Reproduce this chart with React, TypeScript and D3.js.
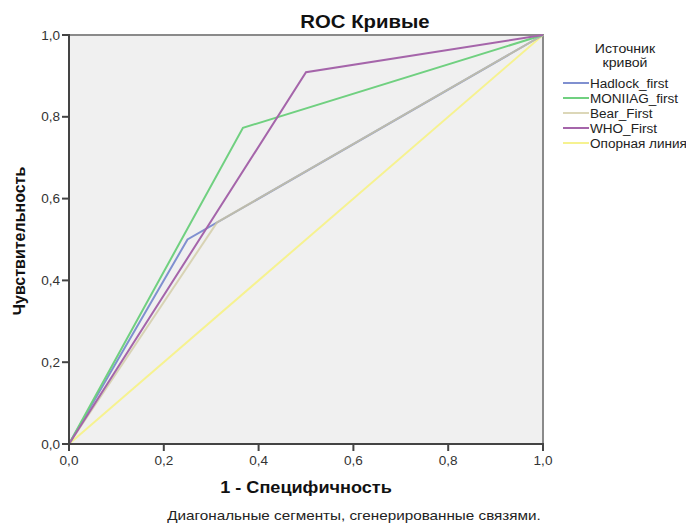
import React from "react";
import * as d3 from "d3";

const seriesNames = ["Hadlock_first", "MONIIAG_first", "Bear_First", "WHO_First", "Опорная линия"];
const seriesColors = ["#8090d0", "#70d080", "#d0c9a0", "#a565aa", "#f6f290"];
const seriesOpacity = [1, 1, 0.75, 1, 1];
const hadlockPts: [number, number][] = [[0, 0], [0.25, 0.5], [1, 1]];
const moniiagPts: [number, number][] = [[0, 0], [0.367, 0.773], [1, 1]];
const bearPts: [number, number][] = [[0, 0], [0.3125, 0.542], [1, 1]];
const whoPts: [number, number][] = [[0, 0], [0.5, 0.909], [1, 1]];
const refPts: [number, number][] = [[0, 0], [1, 1]];
const tickValues = [0, 0.2, 0.4, 0.6, 0.8, 1.0];
const tickLabels = ["0,0", "0,2", "0,4", "0,6", "0,8", "1,0"];

const SX = 1.13;

function T(props: { x: number; y: number; size: number; anchor?: string; bold?: boolean; fill?: string; children: React.ReactNode }) {
  const { x, y, size, anchor = "start", bold = false, fill = "#222", children } = props;
  return (
    <g transform={`translate(${x},${y}) scale(${SX},1)`}>
      <text x={0} y={0} textAnchor={anchor as any} fontSize={size} fontWeight={bold ? "bold" : "normal"} fill={fill}>{children}</text>
    </g>
  );
}

export default function App() {
  const W = 686, H = 525;
  const x0 = 69, x1 = 543, y0 = 444, y1 = 35;
  const x = d3.scaleLinear().domain([0, 1]).range([x0, x1]);
  const y = d3.scaleLinear().domain([0, 1]).range([y0, y1]);
  const line = d3.line<[number, number]>().x(d => x(d[0])).y(d => y(d[1]));
  const series = [hadlockPts, moniiagPts, bearPts, whoPts, refPts];
  const drawOrder = [4, 0, 2, 1, 3];
  const font = "'Liberation Sans', Arial, sans-serif";
  return (
    <svg width={W} height={H} style={{ position: "absolute", left: 0, top: 0, background: "#fff" }} fontFamily={font}>
      <rect x={0} y={0} width={W} height={H} fill="#fff" />
      <rect x={x0} y={y1} width={x1 - x0} height={y0 - y1} fill="#f0f0f0" stroke="#8a8a8a" strokeWidth={2} />
      {drawOrder.map(i => (
        <path key={i} d={line(series[i]) || ""} fill="none" stroke={seriesColors[i]} strokeOpacity={seriesOpacity[i]} strokeWidth={2} />
      ))}
      <line x1={x0} x2={x0} y1={y1 - 1} y2={y0 + 1} stroke="#444" strokeWidth={2} />
      <line x1={x0 - 1} x2={x1 + 1} y1={y0} y2={y0} stroke="#444" strokeWidth={2} />
      {tickValues.map((v, i) => (
        <g key={"y" + i}>
          <line x1={x0 - 7} x2={x0} y1={y(v)} y2={y(v)} stroke="#444" strokeWidth={2} />
          <T x={x0 - 9} y={y(v) + 4.5} size={12} anchor="end" fill="#333">{tickLabels[i]}</T>
        </g>
      ))}
      {tickValues.map((v, i) => (
        <g key={"x" + i}>
          <line x1={x(v)} x2={x(v)} y1={y0} y2={y0 + 7} stroke="#444" strokeWidth={2} />
          <T x={x(v)} y={y0 + 21} size={12} anchor="middle" fill="#333">{tickLabels[i]}</T>
        </g>
      ))}
      <T x={365} y={28} size={18} anchor="middle" bold fill="#111">ROC Кривые</T>
      <T x={306} y={493} size={16} anchor="middle" bold fill="#111">1 - Специфичность</T>
      <text transform={`translate(25,241) rotate(-90)`} textAnchor="middle" fontSize={16} fontWeight="bold" fill="#111">Чувствительность</text>
      <T x={354} y={520} size={13.5} anchor="middle" fill="#222">Диагональные сегменты, сгенерированные связями.</T>
      <T x={625} y={53} size={12.5} anchor="middle" fill="#222">Источник</T>
      <T x={625} y={67} size={12.5} anchor="middle" fill="#222">кривой</T>
      {seriesNames.map((n, i) => (
        <g key={n}>
          <line x1={563} x2={589} y1={83 + i * 15} y2={83 + i * 15} stroke={seriesColors[i]} strokeOpacity={seriesOpacity[i]} strokeWidth={2} />
          <T x={590} y={87.5 + i * 15} size={12} fill="#222">{n}</T>
        </g>
      ))}
    </svg>
  );
}
